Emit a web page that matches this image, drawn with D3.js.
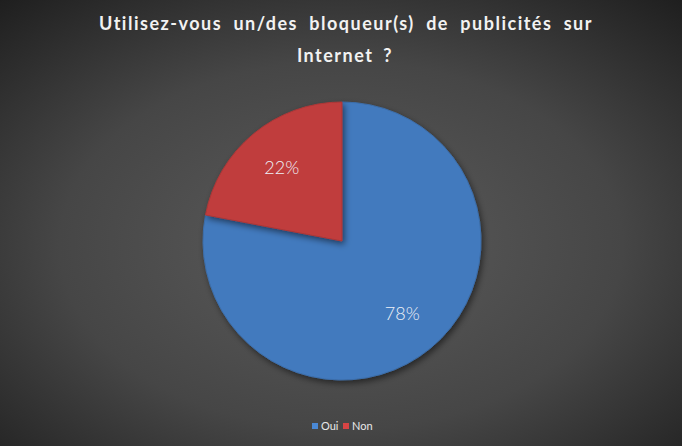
<!DOCTYPE html>
<html lang="fr">
<head>
<meta charset="utf-8">
<title>Bloqueurs de publicités</title>
<script src="https://d3js.org/d3.v7.min.js"></script>
<style>
  body { margin: 0; background: #333; }
  svg { display: block; }
</style>
</head>
<body>
<script>
var w = 682, h = 446;

var categories = ["Oui", "Non"];
var values = [78, 22];
var colors = ["#4a88d4", "#d64444"];
var title1 = "Utilisez-vous un/des bloqueur(s) de publicités sur";
var title2 = "Internet ?";

var cx = 342, cy = 241, r = 139;

var svg = d3.select("body").append("svg")
    .attr("width", w)
    .attr("height", h);

var defs = svg.append("defs");

var bg = defs.append("radialGradient")
    .attr("id", "bg")
    .attr("cx", "50%").attr("cy", "55%").attr("r", "75%");
bg.append("stop").attr("offset", "0%").attr("stop-color", "#5c5c5c");
bg.append("stop").attr("offset", "55%").attr("stop-color", "#464646");
bg.append("stop").attr("offset", "100%").attr("stop-color", "#1e1e1e");

svg.append("rect")
    .attr("width", w).attr("height", h)
    .attr("fill", "url(#bg)");

// shading per slice
colors.forEach(function(c, i) {
    var g = defs.append("radialGradient")
        .attr("id", "slice" + i)
        .attr("gradientUnits", "userSpaceOnUse")
        .attr("cx", cx).attr("cy", cy).attr("r", r);
    g.append("stop").attr("offset", "0%").attr("stop-color", d3.color(c).darker(0.2));
    g.append("stop").attr("offset", "88%").attr("stop-color", c);
    g.append("stop").attr("offset", "96%").attr("stop-color", d3.color(c).brighter(0.25));
    g.append("stop").attr("offset", "100%").attr("stop-color", d3.color(c).darker(0.3));
});

var shadow = defs.append("filter").attr("id", "shadow")
    .attr("x", "-20%").attr("y", "-20%").attr("width", "140%").attr("height", "140%");
shadow.append("feDropShadow")
    .attr("dx", 2).attr("dy", 3).attr("stdDeviation", 3)
    .attr("flood-color", "#000").attr("flood-opacity", 0.5);

var pie = d3.pie().sort(null).value(function(d) { return d; });
var arcs = pie(values);
var arc = d3.arc().innerRadius(0).outerRadius(r);
var labelArc = d3.arc().innerRadius(r * 0.68).outerRadius(r * 0.68);

var g = svg.append("g").attr("transform", "translate(" + cx + "," + cy + ")");

g.selectAll("path.slice")
    .data(arcs)
    .enter()
    .append("path")
    .attr("class", "slice")
    .attr("d", arc)
    .attr("fill", function(d, i) { return "url(#slice" + i + ")"; })
    .attr("stroke", function(d, i) { return d3.color(colors[i]).darker(0.6); })
    .attr("stroke-width", 1)
    .attr("filter", "url(#shadow)");

g.selectAll("text.lbl")
    .data(arcs)
    .enter()
    .append("text")
    .attr("class", "lbl")
    .attr("transform", function(d) { return "translate(" + labelArc.centroid(d) + ")"; })
    .attr("text-anchor", "middle")
    .attr("dy", "0.35em")
    .attr("fill", "#eef0f6")
    .style("font-family", "Lato, 'Open Sans', sans-serif")
    .style("font-weight", "300")
    .style("font-size", "18px")
    .text(function(d) { return d.data + "%"; });

// title
var t = svg.append("g")
    .attr("fill", "#f2f2f2")
    .style("font-family", "Lato, 'Open Sans', sans-serif")
    .style("font-weight", "bold")
    .style("font-size", "18px")
    .style("letter-spacing", "1.5px");

var t1 = t.append("text")
    .attr("x", 346).attr("y", 30)
    .attr("text-anchor", "middle")
    .text(title1);

// spread words to the full title width
var natural = t1.node().getComputedTextLength();
var gaps = title1.split(" ").length - 1;
t1.style("word-spacing", Math.max(0, (494 - natural) / gaps) + "px");

t.append("text")
    .attr("x", 345).attr("y", 62)
    .attr("text-anchor", "middle")
    .style("word-spacing", "4px")
    .text(title2);

// legend
var legend = svg.append("g")
    .style("font-family", "Lato, 'Open Sans', sans-serif")
    .style("font-size", "11px");

var lx = [312, 343];
categories.forEach(function(c, i) {
    legend.append("rect")
        .attr("x", lx[i]).attr("y", 423)
        .attr("width", 6).attr("height", 6)
        .attr("fill", colors[i]);
    legend.append("text")
        .attr("x", lx[i] + 9).attr("y", 430)
        .attr("fill", "#e8e8e8")
        .text(c);
});
</script>
</body>
</html>
